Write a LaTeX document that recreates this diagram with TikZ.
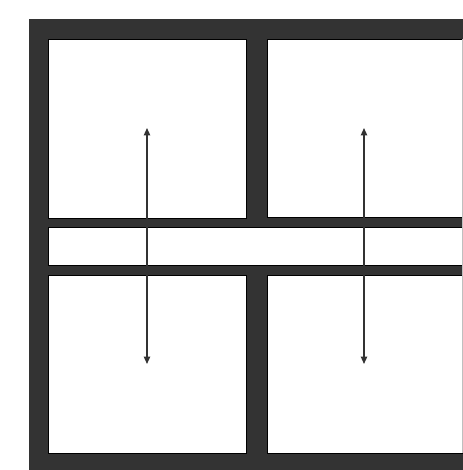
\documentclass[tikz,border=0pt]{standalone}
\usepackage{xcolor}
\definecolor{wall}{RGB}{51,51,51}
\definecolor{floor}{RGB}{255,255,255}
\usepackage{tikz}
\usetikzlibrary{arrows.meta}

\tikzset{
    room/.style={fill=floor, draw=black, line width=0.45pt},
    link/.style={<->, >={Triangle[length=4.2pt, width=3.6pt]}, line width=0.8pt, draw=wall}
}

\begin{document}
\begin{tikzpicture}[x=0.02cm, y=-0.02cm]
        \useasboundingbox (0, 0) rectangle (463, 470);
        \begin{scope}
        \clip (0, 0) rectangle (463, 470);

        % Walls
        \fill[wall] (29, 19) rectangle (470, 475);

        % Rooms
        \draw[room] (48, 39) rectangle (246, 218);
        \draw[room] (267, 39) rectangle (470, 217);
        \draw[room] (48, 227) rectangle (470, 265);
        \draw[room] (48, 275) rectangle (246, 453);
        \draw[room] (267, 275) rectangle (470, 453);
        \draw[black!25, line width=0.5pt] (462, 39) -- (462, 453);
        \end{scope}

        % Room centres
        \coordinate (topleft) at (147, 128);
        \coordinate (topright) at (364, 128);
        \coordinate (bottomleft) at (147, 364);
        \coordinate (bottomright) at (364, 364);

        % Links
        \draw[link] (topleft) -- (bottomleft);
        \draw[link] (topright) -- (bottomright);
    \end{tikzpicture}
\end{document}
